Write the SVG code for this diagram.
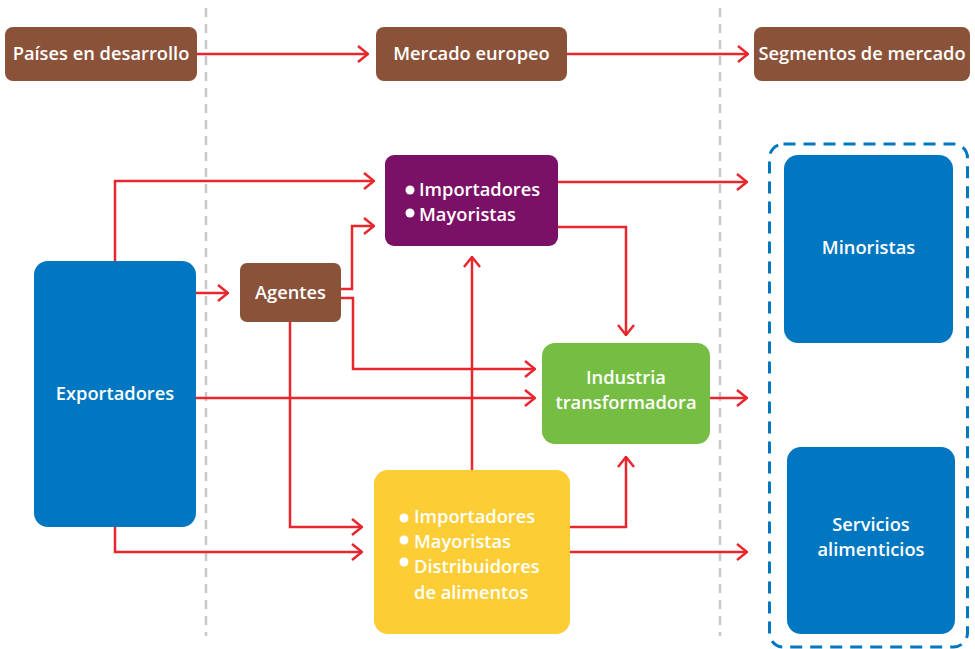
<svg xmlns="http://www.w3.org/2000/svg" width="975" height="649" viewBox="0 0 975 649">
<defs>
<marker id="arr" viewBox="0 0 12 18" refX="11" refY="9" markerWidth="12" markerHeight="18" markerUnits="userSpaceOnUse" orient="auto">
<path d="M1,1 L11,9 L1,17" fill="none" stroke="#E8262C" stroke-width="2.5"/>
</marker>
<style>
.t{font-family:"Open Sans","Noto Sans",sans-serif;font-weight:600;font-size:18.3px;fill:#fff}
.c{text-anchor:middle}
.ln{fill:none;stroke:#E8262C;stroke-width:2.5}
.gd{stroke:#C8C8C8;stroke-width:2.5;stroke-dasharray:9 7}
.brown{fill:#8B523A}
.blue{fill:#0077C0}
</style>
</defs>
<rect width="975" height="649" fill="#fff"/>
<g id="dividers">
<line class="gd" x1="206" y1="8" x2="206" y2="636"/>
<line class="gd" x1="720" y1="8" x2="720" y2="636"/>
</g>
<g id="segment-frame">
<rect x="769.5" y="144" width="198" height="503" rx="14" fill="none" stroke="#0077C0" stroke-width="3" stroke-dasharray="12 8"/>
</g>
<g id="connectors">
<path class="ln" d="M197,54 H368" marker-end="url(#arr)"/>
<path class="ln" d="M567,54 H748" marker-end="url(#arr)"/>
<path class="ln" d="M115,261 V181 H374" marker-end="url(#arr)"/>
<path class="ln" d="M196,293 H228" marker-end="url(#arr)"/>
<path class="ln" d="M341,289 H352 V226 H374" marker-end="url(#arr)"/>
<path class="ln" d="M341,298 H353 V369 H535" marker-end="url(#arr)"/>
<path class="ln" d="M196,398 H535" marker-end="url(#arr)"/>
<path class="ln" d="M558,182 H747" marker-end="url(#arr)"/>
<path class="ln" d="M558,227 H626 V335" marker-end="url(#arr)"/>
<path class="ln" d="M710,398 H747" marker-end="url(#arr)"/>
<path class="ln" d="M472,470 V257" marker-end="url(#arr)"/>
<path class="ln" d="M290,322 V527 H362" marker-end="url(#arr)"/>
<path class="ln" d="M115,527 V552 H362" marker-end="url(#arr)"/>
<path class="ln" d="M570,527 H626 V457" marker-end="url(#arr)"/>
<path class="ln" d="M570,552 H747" marker-end="url(#arr)"/>
</g>
<g id="paises">
<rect class="brown" x="5" y="27" width="192" height="54" rx="8"/>
<text class="t c" x="101" y="60">Países en desarrollo</text>
</g>
<g id="mercado">
<rect class="brown" x="376" y="27" width="191" height="54" rx="8"/>
<text class="t c" x="471.5" y="60">Mercado europeo</text>
</g>
<g id="segmentos">
<rect class="brown" x="754" y="27" width="216" height="54" rx="8"/>
<text class="t c" x="862" y="60">Segmentos de mercado</text>
</g>
<g id="exportadores">
<rect class="blue" x="34" y="261" width="162" height="266" rx="14"/>
<text class="t c" x="115" y="400">Exportadores</text>
</g>
<g id="agentes">
<rect class="brown" x="240" y="263" width="101" height="59" rx="7"/>
<text class="t c" x="290.5" y="299">Agentes</text>
</g>
<g id="importadores-mayoristas">
<rect x="385" y="155" width="173" height="91" rx="9" fill="#7B1166"/>
<circle cx="410" cy="190" r="4.5" fill="#fff"/>
<circle cx="410" cy="213" r="4.5" fill="#fff"/>
<text class="t" x="419" y="196">Importadores</text>
<text class="t" x="419" y="221">Mayoristas</text>
</g>
<g id="industria">
<rect x="542" y="343" width="168" height="101" rx="13" fill="#76BE43"/>
<text class="t c" x="626" y="384">Industria</text>
<text class="t c" x="626" y="409">transformadora</text>
</g>
<g id="distribuidores">
<rect x="374" y="470" width="196" height="164" rx="14" fill="#FDCD35"/>
<circle cx="404" cy="518" r="4.5" fill="#fff"/>
<circle cx="404" cy="540" r="4.5" fill="#fff"/>
<circle cx="404" cy="562" r="4.5" fill="#fff"/>
<text class="t" x="414" y="523">Importadores</text>
<text class="t" x="414" y="548">Mayoristas</text>
<text class="t" x="414" y="573">Distribuidores</text>
<text class="t" x="414" y="599">de alimentos</text>
</g>
<g id="minoristas">
<rect class="blue" x="784" y="155" width="169" height="188" rx="14"/>
<text class="t c" x="868.5" y="254">Minoristas</text>
</g>
<g id="servicios">
<rect class="blue" x="787" y="447" width="168" height="187" rx="14"/>
<text class="t c" x="871" y="531">Servicios</text>
<text class="t c" x="871" y="556">alimenticios</text>
</g>
</svg>
